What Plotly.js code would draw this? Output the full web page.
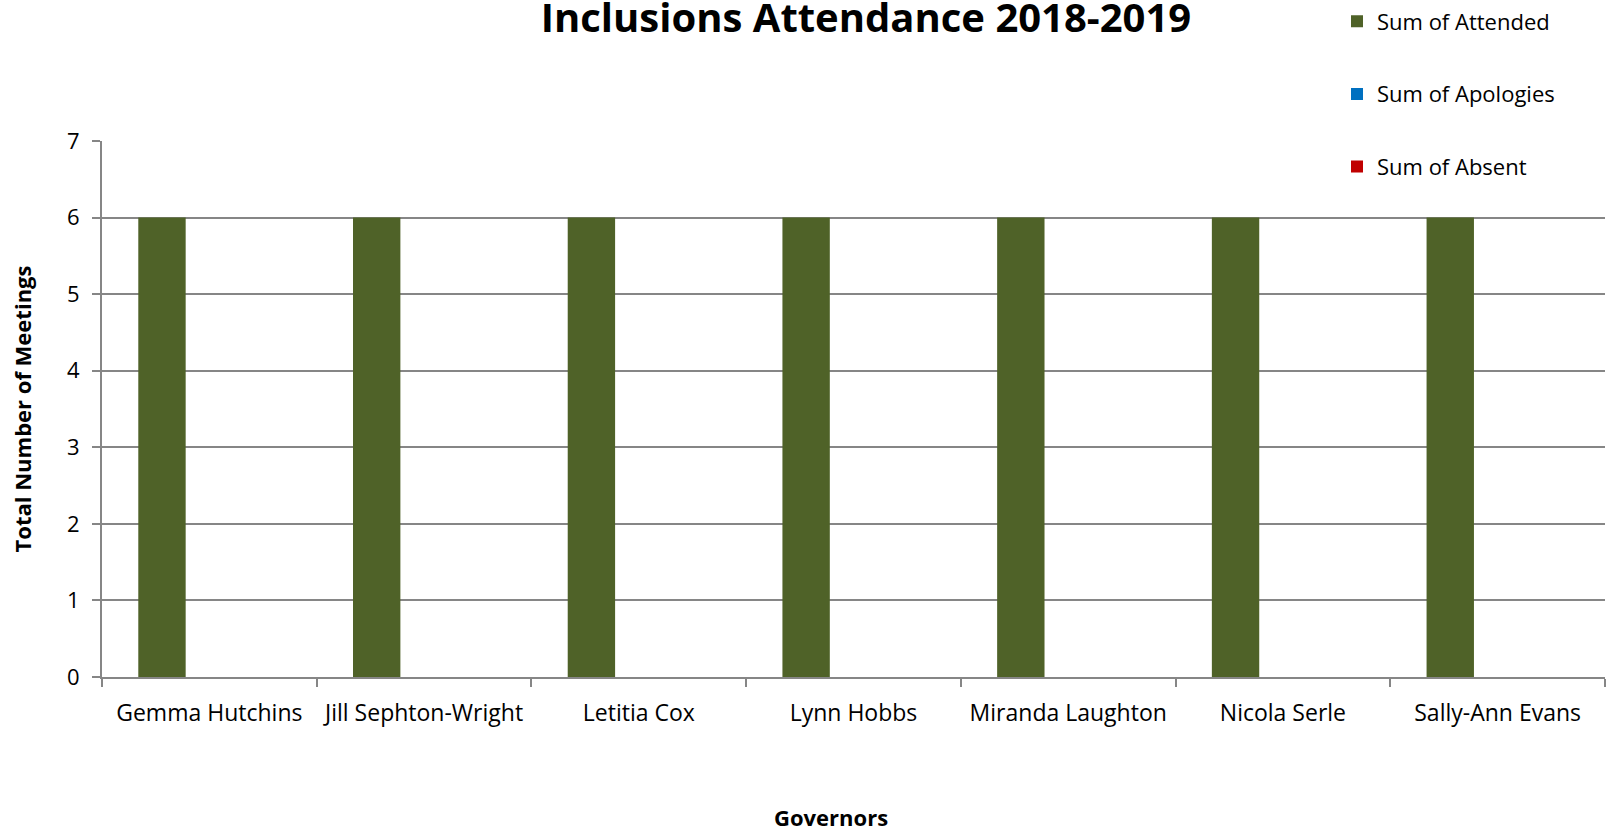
<!DOCTYPE html>
<html>
<head>
<meta charset="utf-8">
<script src="https://cdn.plot.ly/plotly-3.0.1.min.js"></script>
<style>html,body{margin:0;padding:0;background:#fff;}#chart{width:1607px;height:832px;}</style>
</head>
<body>
<div id="chart"></div>
<script>
const governors = ["Gemma Hutchins", "Jill Sephton-Wright", "Letitia Cox", "Lynn Hobbs", "Miranda Laughton", "Nicola Serle", "Sally-Ann Evans"];
const attended = [6, 6, 6, 6, 6, 6, 6];
const apologies = [0, 0, 0, 0, 0, 0, 0];
const absent = [0, 0, 0, 0, 0, 0, 0];
const seriesNames = ["Sum of Attended", "Sum of Apologies", "Sum of Absent"];
const seriesColors = ["#4f6228", "#0070c0", "#c00000"];
const yTicks = [0, 1, 2, 3, 4, 5, 6, 7];

const FONT = "Open Sans, sans-serif";
const values = [attended, apologies, absent];
const traces = values.map((v, i) => ({
  type: "bar",
  name: seriesNames[i],
  x: governors,
  y: v,
  legendgroup: "g" + i,
  marker: {color: seriesColors[i], line: {width: 0}},
  hoverinfo: "x+y+name"
}));

const layout = {
  width: 1607, height: 832,
  paper_bgcolor: "#ffffff", plot_bgcolor: "#ffffff",
  margin: {l: 102, r: 2, t: 140, b: 155, pad: 0},
  barmode: "group", bargap: 0.338, bargroupgap: 0,
  font: {family: FONT, color: "#000000"},
  title: {text: "<b>Inclusions Attendance 2018-2019</b>", font: {family: FONT, size: 40, color: "#000"},
          x: 866/1607, xanchor: "center", xref: "container", yref: "container", y: 1 - 18/832, yanchor: "middle"},
  xaxis: {
    type: "category",
    showline: true, linecolor: "#868686", linewidth: 2,
    ticks: "outside", ticklen: 8, tickcolor: "#868686", tickwidth: 2,
    tickson: "boundaries",
    showgrid: false,
    tickfont: {family: FONT, size: 23, color: "#000"},
    ticklabelstandoff: 14,
    automargin: false
  },
  yaxis: {
    range: [0, 7],
    tickvals: yTicks,
    showline: true, linecolor: "#868686", linewidth: 2,
    ticks: "outside", ticklen: 8, tickcolor: "#868686", tickwidth: 2,
    showgrid: true, gridcolor: "#868686", gridwidth: 1.5,
    zeroline: false,
    tickfont: {family: FONT, size: 22, color: "#000"},
    ticklabelstandoff: 8,
    title: {text: "<b>Total Number of Meetings</b>", font: {family: FONT, size: 22, color: "#000"}, standoff: 29},
    automargin: false
  },
  annotations: [{
    text: "<b>Governors</b>", xref: "paper", yref: "paper",
    x: (831 - 102) / 1503, y: (677 - 817) / 537, xanchor: "center", yanchor: "middle",
    showarrow: false, font: {family: FONT, size: 22, color: "#000"}
  }],
  legend: {
    x: (1337 - 102) / 1503, xanchor: "left",
    y: 676.5 / 537, yanchor: "top",
    font: {family: FONT, size: 22, color: "#000"},
    tracegroupgap: 41,
    bgcolor: "rgba(0,0,0,0)"
  },
  showlegend: true
};

Plotly.newPlot("chart", traces, layout, {displayModeBar: false, staticPlot: false});
</script>
</body>
</html>
